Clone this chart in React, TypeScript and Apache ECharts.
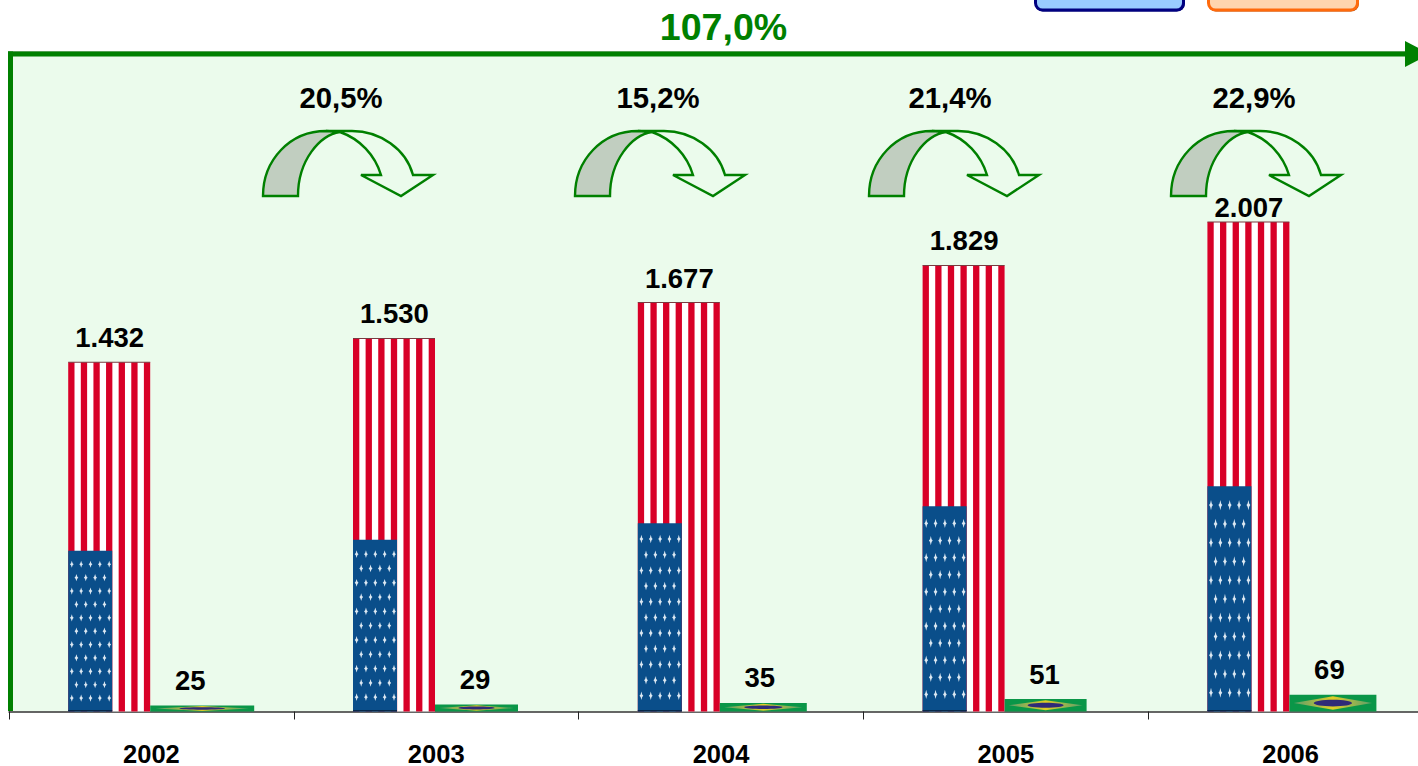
import React, { useEffect, useRef } from "react";
import * as echarts from "echarts";

const years = ["2002", "2003", "2004", "2005", "2006"];
const usValues = [1432, 1530, 1677, 1829, 2007];
const brValues = [25, 29, 35, 51, 69];
const growthLabels = ["20,5%", "15,2%", "21,4%", "22,9%"];
const totalGrowth = "107,0%";

// layout only
const growthLabelX = [341, 658, 950, 1254];
const arrowX = [263, 575, 869, 1171];
const brWidths = [104, 83, 87, 82, 87];
const usLabelGap = [25, 25, 24, 25, 15];

const FONT = '"Liberation Sans", Arial, sans-serif';
const GREEN = "#008000";
const RED = "#D80027";
const BLUE = "#0A4E8A";

const fmt = (v: number) => String(v).replace(/\B(?=(\d{3})+$)/g, ".");

echarts.graphic.registerShape(
  "arrowLeft",
  echarts.graphic.extendPath("M0,65 C0,29 27,0 63,0 L77,1 C57,4 35,29 35,65 Z", {}) as any
);
echarts.graphic.registerShape(
  "arrowRight",
  echarts.graphic.extendPath(
    "M63,0 L89,0 C117,0 143,18 150,44 L170,44 L138,65 L98,44 L118,44 C112,24 97,8 77,1",
    {}
  ) as any
);

function usItem(params: any, api: any) {
  const i = api.value(0);
  const value = api.value(1);
  const c = api.coord([i, 0]);
  const top = api.coord([i, value])[1];
  const base = c[1];
  const left = c[0] - 83.2;
  const w = 82;
  const h = base - top;
  const kids: any[] = [
    { type: "rect", shape: { x: left, y: top, width: w, height: h }, style: { fill: "#ffffff" } },
  ];
  const sw = w / 13;
  for (let s = 0; s < 7; s++) {
    kids.push({
      type: "rect",
      shape: { x: left + s * 2 * sw, y: top, width: sw, height: h },
      style: { fill: RED },
    });
  }
  kids.push({
    type: "rect",
    shape: { x: left, y: top - 0.5, width: w, height: 1 },
    style: { fill: "#7a3a40" },
  });
  const ch = h * 0.46;
  const cw = 44;
  const ctop = base - ch;
  kids.push({ type: "rect", shape: { x: left, y: ctop, width: cw, height: ch }, style: { fill: BLUE } });
  const rowH = ch / 12;
  for (let r = 0; r < 11; r++) {
    const odd = r % 2 === 1;
    const n = odd ? 4 : 5;
    const sx = left + (odd ? 8.2 : 3.6);
    const cy = ctop + rowH * (r + 1);
    const hh = rowH * 0.27;
    for (let k = 0; k < n; k++) {
      const cx = sx + k * 9.35;
      kids.push({
        type: "polygon",
        shape: {
          points: [
            [cx, cy - hh],
            [cx + 0.8, cy - hh * 0.3],
            [cx + 1.9, cy],
            [cx + 0.8, cy + hh * 0.3],
            [cx, cy + hh],
            [cx - 0.8, cy + hh * 0.3],
            [cx - 1.9, cy],
            [cx - 0.8, cy - hh * 0.3],
          ],
        },
        style: { fill: "#DCE8F2" },
      });
    }
  }
  kids.push({ type: "rect", shape: { x: left, y: base - 1.5, width: cw, height: 1.5 }, style: { fill: "#06284a" } });
  kids.push({
    type: "text",
    style: {
      text: fmt(value),
      x: left + w / 2 + 0.5,
      y: top - usLabelGap[i],
      font: `bold 27.5px ${FONT}`,
      fill: "#000",
      textAlign: "center",
      textVerticalAlign: "middle",
    },
  });
  return { type: "group", children: kids };
}

function brItem(params: any, api: any) {
  const i = api.value(0);
  const value = api.value(1);
  const c = api.coord([i, 0]);
  const top = api.coord([i, value])[1];
  const base = c[1];
  const left = c[0] - 1.2;
  const w = brWidths[i];
  const h = base - top;
  const mx = left + w / 2;
  const my = top + h / 2;
  const yellow = {
    type: "linear",
    x: 0,
    y: 0,
    x2: 1,
    y2: 0,
    colorStops: [
      { offset: 0, color: "#5a9f6a" },
      { offset: 0.3, color: "#a8b848" },
      { offset: 0.5, color: "#E0CF24" },
      { offset: 0.7, color: "#a8b848" },
      { offset: 1, color: "#5a9f6a" },
    ],
  };
  const kids: any[] = [
    { type: "rect", shape: { x: left, y: top, width: w, height: h }, style: { fill: "#0A9648" } },
    {
      type: "polygon",
      shape: {
        points: [
          [left + w * 0.05, my],
          [mx, top + h * 0.1],
          [left + w * 0.95, my],
          [mx, base - h * 0.1],
        ],
      },
      style: { fill: yellow },
    },
    {
      type: "ellipse",
      shape: { cx: mx, cy: my, rx: w * 0.22, ry: h * 0.2 },
      style: { fill: "#2F2B78" },
    },
    {
      type: "text",
      style: {
        text: fmt(value),
        x: c[0] + 38.8,
        y: top - 25,
        font: `bold 27.5px ${FONT}`,
        fill: "#000",
        textAlign: "center",
        textVerticalAlign: "middle",
      },
    },
  ];
  return { type: "group", children: kids };
}

export default function App() {
  const ref = useRef<HTMLDivElement>(null);
  useEffect(() => {
    document.body.style.margin = "0";
    const chart = echarts.init(ref.current!, undefined, { renderer: "svg" });
    const arrowGraphics: any[] = [];
    growthLabels.forEach((t, i) => {
      arrowGraphics.push({
        type: "text",
        x: growthLabelX[i],
        y: 97,
        z: 20,
        style: {
          text: t,
          font: `bold 29.3px ${FONT}`,
          fill: "#000",
          textAlign: "center",
          textVerticalAlign: "middle",
        },
      });
      arrowGraphics.push({
        type: "arrowRight",
        x: arrowX[i],
        y: 131,
        z: 20,
        style: { stroke: GREEN, lineWidth: 2.4, fill: "none" },
      });
      arrowGraphics.push({
        type: "arrowLeft",
        x: arrowX[i],
        y: 131,
        z: 21,
        style: { fill: "#C1CEC0", stroke: GREEN, lineWidth: 2.4 },
      });
    });
    chart.setOption({
      animation: false,
      backgroundColor: "#ffffff",
      grid: {
        show: true,
        left: 9,
        top: 55,
        width: 1424,
        height: 656.5,
        backgroundColor: "#EBFBEC",
        borderWidth: 0,
        outerBoundsMode: "none",
        containLabel: false,
      },
      xAxis: {
        type: "category",
        data: years,
        axisLine: { lineStyle: { color: "#333333", width: 1.5 } },
        axisTick: { show: true, length: 8, lineStyle: { color: "#222222", width: 1 } },
        axisLabel: {
          margin: 31,
          lineHeight: 22,
          color: "#000",
          fontFamily: FONT,
          fontWeight: "bold",
          fontSize: 25.5,
        },
      },
      yAxis: { type: "value", min: 0, max: 2692, show: false, splitLine: { show: false } },
      series: [
        {
          type: "custom",
          name: "EUA",
          renderItem: usItem,
          clip: false,
          z: 5,
          data: usValues.map((v, i) => [i, v]),
        },
        {
          type: "custom",
          name: "Brasil",
          renderItem: brItem,
          clip: false,
          z: 5,
          data: brValues.map((v, i) => [i, v]),
        },
      ],
      graphic: [
        {
          type: "rect",
          z: 9,
          shape: { x: 1035, y: -30, width: 150, height: 41.5, r: 8 },
          style: { fill: "#000070" },
        },
        {
          type: "rect",
          z: 10,
          shape: { x: 1035.5, y: -30, width: 148, height: 40, r: 7 },
          style: { fill: "#99CCFF", stroke: "#000080", lineWidth: 3 },
        },
        {
          type: "rect",
          z: 9,
          shape: { x: 1208, y: -30, width: 151, height: 41.5, r: 8 },
          style: { fill: "#A84A10" },
        },
        {
          type: "rect",
          z: 10,
          shape: { x: 1208.5, y: -30, width: 149, height: 40, r: 7 },
          style: { fill: "#FFD5AE", stroke: "#FF6A0C", lineWidth: 3 },
        },
        {
          type: "text",
          x: 723.5,
          y: 27,
          z: 20,
          style: {
            text: totalGrowth,
            font: `bold 37.6px ${FONT}`,
            fill: GREEN,
            textAlign: "center",
            textVerticalAlign: "middle",
          },
        },
        { type: "rect", z: 14, shape: { x: 8, y: 51, width: 1400, height: 1 }, style: { fill: "#A9BFA9" } },
        { type: "rect", z: 15, shape: { x: 8, y: 51.5, width: 1400, height: 5 }, style: { fill: GREEN } },
        { type: "rect", z: 15, shape: { x: 8, y: 51.5, width: 5, height: 659.5 }, style: { fill: GREEN } },
        {
          type: "polygon",
          z: 15,
          shape: { points: [[1405, 41], [1430, 54], [1405, 67]] },
          style: { fill: GREEN },
        },
        ...arrowGraphics,
      ],
    });
    return () => chart.dispose();
  }, []);
  return (
    <div
      ref={ref}
      style={{ position: "fixed", left: 0, top: 0, width: 1418, height: 766, overflow: "hidden" }}
    />
  );
}
